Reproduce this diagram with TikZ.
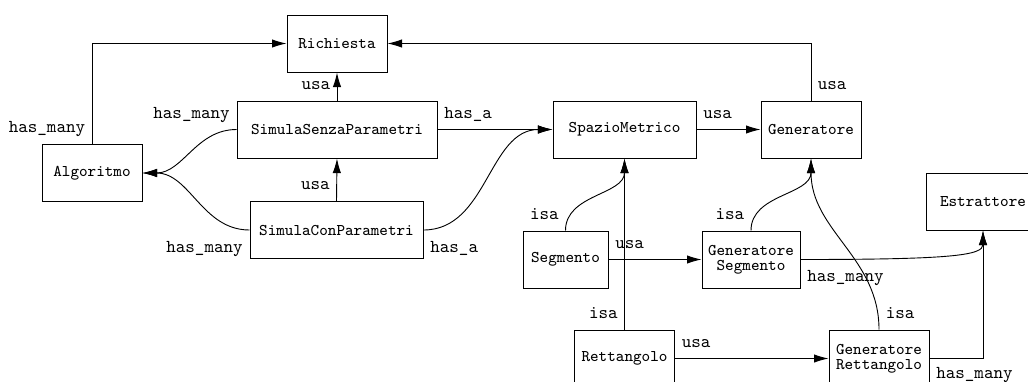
\documentclass[tikz,border=0pt]{standalone}
\usepackage{tikz}
\usetikzlibrary{arrows.meta}

\tikzset{
  classe/.style={draw, font=\small\ttfamily, minimum height=31.4pt, align=center, inner sep=2pt},
  rel/.style={font=\ttfamily, inner xsep=3.5pt, inner ysep=6pt, text depth=0pt},
}

\begin{document}
\begin{tikzpicture}[>={Latex[length=8pt,width=4.6pt]}, x=0.55pt, y=0.55pt, line width=0.5pt]
  \useasboundingbox (0,0) rectangle (1028,-381);
  % classi
  \node [classe, minimum width=55pt] (ric) at (337,-43.5) {Richiesta};
  \node [classe, minimum width=110pt] (ssp) at (337,-129.5) {SimulaSenzaParametri};
  \node [classe, minimum width=55pt] (alg) at (92,-173) {Algoritmo};
  \node [classe, minimum width=95.2pt] (scp) at (336.5,-230) {SimulaConParametri};
  \node [classe, minimum width=78.7pt] (sm) at (624.5,-129.5) {SpazioMetrico};
  \node [classe, minimum width=55pt] (gen) at (811,-129.5) {Generatore};
  \node [classe, minimum width=46.8pt] (seg) at (565.5,-259.5) {Segmento};
  \node [classe, minimum width=53.9pt] (gs) at (751,-259.5) {Generatore\\[-2.5pt]Segmento};
  \node [classe, minimum width=62.7pt] (est) at (983,-201.5) {Estrattore};
  \node [classe, minimum width=55pt] (rett) at (624.5,-358.5) {Rettangolo};
  \node [classe, minimum width=55pt] (gr) at (879,-358.5) {Generatore\\[-2.5pt]Rettangolo};

  % relazioni
  \draw [->] (alg.north) |- (ric.west) node [rel, pos=0, above left] {has\_many};
  \draw [->] (gen.north) |- (ric.east) node [rel, pos=0, above right] {usa};
  \draw [->] (ssp.north) -- (ric.south) node [rel, pos=0, above left] {usa};
  \draw [->] (scp.north) -- (ssp.south) node [rel, pos=0, above left] {usa};
  \draw [->] (ssp.west) to [out=180, in=0] (alg.east);
  \node [rel, above left] at (ssp.west) {has\_many};
  \draw [->] (scp.west) to [out=180, in=0] (alg.east);
  \node [rel, below left] at (scp.west) {has\_many};
  \draw [->] (ssp.east) -- (sm.west) node [rel, pos=0, above right] {has\_a};
  \draw [->] (scp.east) to [out=0, in=180] (sm.west);
  \node [rel, below right] at (scp.east) {has\_a};
  \draw [->] (sm.east) -- (gen.west) node [rel, pos=0, above right] {usa};
  \draw [->] (seg.north) to [out=90, in=-90] (sm.south);
  \node [rel, above left] at (seg.north) {isa};
  \draw [->] (rett.north) -- (sm.south) node [rel, pos=0, above left] {isa};
  \draw [->] (seg.east) -- (gs.west) node [rel, pos=0, above right] {usa};
  \draw [->] (gs.north) to [out=90, in=-90] (gen.south);
  \node [rel, above left] at (gs.north) {isa};
  \draw [->] (gr.north) to [out=90, in=-90] (gen.south);
  \node [rel, above right] at (gr.north) {isa};
  \draw [->] (gs.east) .. controls +(150,0) and +(0,-25) .. (est.south);
  \node [rel, below right] at (gs.east) {has\_many};
  \draw [->] (gr.east) -| (est.south) node [rel, pos=0, below right, inner ysep=4.5pt] {has\_many};
  \draw [->] (rett.east) -- (gr.west) node [rel, pos=0, above right] {usa};
\end{tikzpicture}
\end{document}
